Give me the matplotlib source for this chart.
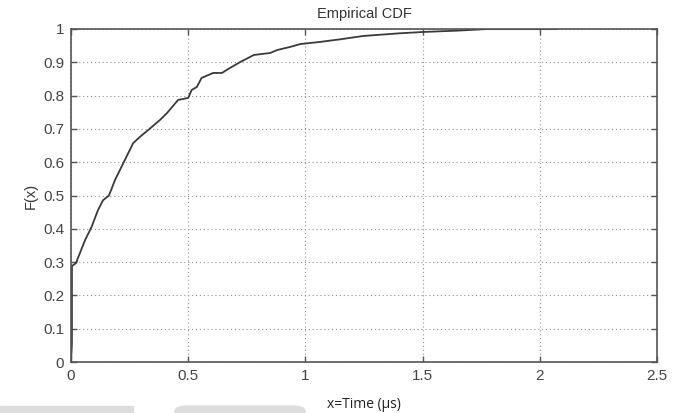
import matplotlib
matplotlib.use("Agg")
import matplotlib.pyplot as plt
from matplotlib.patches import Rectangle, FancyBboxPatch

# Data (x in microseconds, F(x))
time_us = [0.0, 0.003, 0.004, 0.004, 0.021, 0.038, 0.060, 0.088, 0.115, 0.137, 0.162,
           0.188, 0.230, 0.265, 0.294, 0.330, 0.380, 0.410, 0.457, 0.500, 0.515,
           0.537, 0.557, 0.606, 0.644, 0.678, 0.720, 0.780, 0.850, 0.880, 0.934,
           0.980, 1.060, 1.148, 1.246, 1.400, 1.500, 1.645, 1.780, 2.070]
cdf = [0.0, 0.04, 0.06, 0.288, 0.297, 0.327, 0.366, 0.406, 0.456, 0.486, 0.500,
       0.547, 0.607, 0.657, 0.676, 0.697, 0.727, 0.748, 0.787, 0.793, 0.817,
       0.826, 0.853, 0.868, 0.868, 0.883, 0.900, 0.922, 0.928, 0.937, 0.946,
       0.955, 0.961, 0.969, 0.979, 0.987, 0.991, 0.995, 1.0, 1.0]

x_ticks = [0, 0.5, 1, 1.5, 2, 2.5]
x_tick_labels = ["0", "0.5", "1", "1.5", "2", "2.5"]
y_ticks = [0, 0.1, 0.2, 0.3, 0.4, 0.5, 0.6, 0.7, 0.8, 0.9, 1]
y_tick_labels = ["0", "0.1", "0.2", "0.3", "0.4", "0.5", "0.6", "0.7", "0.8", "0.9", "1"]

plt.rcParams['font.family'] = ['Liberation Sans', 'DejaVu Sans']

W, H = 681, 413
fig = plt.figure(figsize=(W / 100, H / 100), dpi=100)
ax = fig.add_axes([71 / W, 1 - 362 / H, (657 - 71) / W, (362 - 29) / H])

ax.plot(time_us, cdf, color="#3a3a3a", lw=1.3)

ax.set_xlim(0, 2.5)
ax.set_ylim(0, 1)
ax.set_xticks(x_ticks)
ax.set_xticklabels(x_tick_labels)
ax.set_yticks(y_ticks)
ax.set_yticklabels(y_tick_labels)
ax.grid(True, linestyle=(0, (1, 2.5)), color="#909090", lw=0.8)
ax.tick_params(direction="in", top=True, right=True, length=4, width=1,
               colors="#555555", labelcolor="#444444", labelsize=11, pad=5)
for s in ax.spines.values():
    s.set_color("#555555")
    s.set_linewidth(1.2)

ax.set_title("Empirical CDF", fontsize=10.5, color="#333333", pad=8)
ax.set_ylabel("F(x)", fontsize=10.5, color="#333333", labelpad=4)
ax.set_xlabel("x=Time (\u00b5s)", fontsize=10, color="#222222", labelpad=10,
              family=["Open Sans", "DejaVu Sans"])

# light gray blocks at the bottom edge of the image
fig.patches.append(Rectangle((0, 0), 133 / W, 7 / H, transform=fig.transFigure,
                             color="#dddddd", zorder=0))
fig.patches.append(FancyBboxPatch((175 / W, -10 / H), 130 / W, 17 / H,
                                  boxstyle="round,pad=0,rounding_size=0.02",
                                  transform=fig.transFigure, color="#dddddd",
                                  zorder=0, mutation_aspect=0.6))

fig.savefig("out.png", dpi=100)
